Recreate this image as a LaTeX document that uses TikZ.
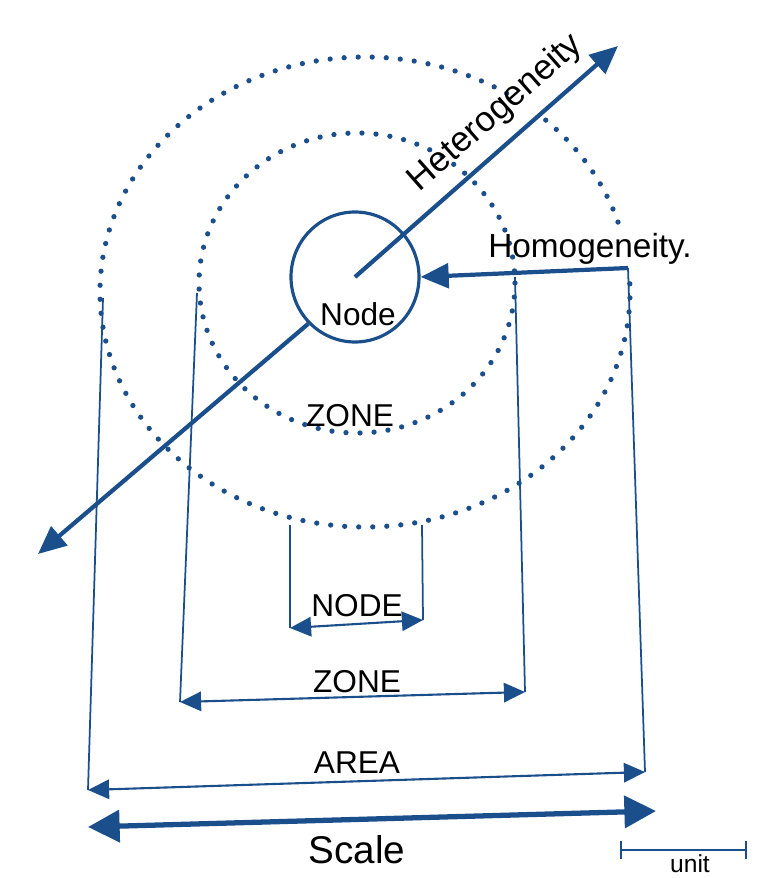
\documentclass[tikz,border=0pt]{standalone}
\usepackage{fontspec}
\setmainfont{Liberation Sans}
\usetikzlibrary{arrows.meta,shapes.geometric}
\definecolor{navy}{HTML}{1B4F8C}
\tikzset{
  dim/.style={navy, line width=1.2pt, {Triangle[width=11pt,length=12pt]}-{Triangle[width=11pt,length=12pt]}},
  axis/.style={navy, line width=2.4pt, -{Triangle[width=14pt,length=16pt]}},
  ext/.style={navy, line width=1pt},
  dots/.style={navy, line width=3pt, line cap=round, dash pattern=on 0pt off 8pt},
  lbl/.style={font=\fontsize{18}{18}\selectfont}
}
\begin{document}
\begin{tikzpicture}[x=0.02cm,y=-0.02cm]
\useasboundingbox (0,0) rectangle (768,878);
% rings
\draw [dots] (357,283) ellipse (158 and 150);
\draw [dots] (365,292) ++(-2:265 and 235) arc[start angle=-2,end angle=303,x radius=265,y radius=235];
\draw [dots] (365,292) ++(313:265 and 235) arc[start angle=313,end angle=343,x radius=265,y radius=235];
\node [draw, navy, line width=1.8pt, ellipse, inner sep=0pt, minimum width=128*0.02cm, minimum height=130*0.02cm] (nd) at (355,277) {};
\node [lbl, anchor=north] (ndlbl) at (358,296) {Node};
\node [lbl] (zonelbl) at (350,416) {ZONE};
% heterogeneity axis
\coordinate (hc) at (355,277);
\coordinate (htop) at (618,46);
\coordinate (hbot) at (38,554);
\draw [axis] (hc) -- (htop);
\draw [axis] (nd.225) -- (hbot);
\node [font=\fontsize{20}{20}\selectfont, rotate=41.4] (het) at (496,113) {Heterogeneity};
% homogeneity
\coordinate (hom) at (628,268);
\draw [axis] (hom) -- (nd.east);
\node [font=\fontsize{19}{19}\selectfont] (homlbl) at (590,249) {Homogeneity.};
% extension lines
\coordinate (al) at (103,298); \coordinate (ab) at (88,790);
\coordinate (ar) at (645,772);
\coordinate (zl) at (197,293); \coordinate (zb) at (180,702);
\coordinate (zr) at (515,277); \coordinate (zrb) at (525,692);
\coordinate (nl) at (290,525); \coordinate (nlb) at (290,628);
\coordinate (nr) at (422,525); \coordinate (nrb) at (423,620);
\draw [ext] (al) -- (ab);
\draw [ext] (hom) -- (ar);
\draw [ext] (zl) -- (zb);
\draw [ext] (zr) -- (zrb);
\draw [ext] (nl) -- (nlb);
\draw [ext] (nr) -- (nrb);
% dimensions
\draw [dim] (nlb) -- (nrb);
\node [lbl] (nodelbl) at (357,606) {NODE};
\draw [dim] (zb) -- (zrb);
\node [lbl] (zlbl) at (357,682) {ZONE};
\draw [dim] (ab) -- (ar);
\node [lbl] (arealbl) at (357,763) {AREA};
\coordinate (sl) at (88,827); \coordinate (sr) at (656,811);
\draw [navy, line width=3pt, {Triangle[width=18pt,length=18pt]}-{Triangle[width=18pt,length=18pt]}] (sl) -- (sr);
\node [font=\fontsize{22}{22}\selectfont] (scalelbl) at (357,850) {Scale};
% unit bar
\coordinate (ul) at (620,850); \coordinate (ur) at (747,850);
\draw [navy, line width=1.2pt, {Bar[width=10pt]}-{Bar[width=10pt]}] (ul) -- (ur);
\node [font=\fontsize{14}{14}\selectfont] (unitlbl) at (690,864) {unit};
\end{tikzpicture}
\end{document}
